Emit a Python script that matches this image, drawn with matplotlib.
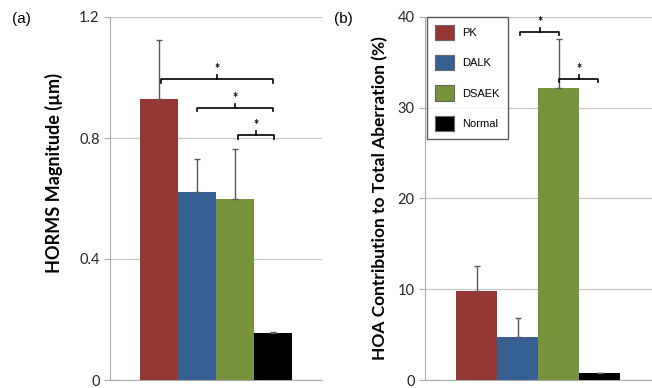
import matplotlib.pyplot as plt

groups = ['PK', 'DALK', 'DSAEK', 'Normal']
colors = ['#953735', '#376092', '#77933C', '#000000']

horms = [0.93, 0.62, 0.60, 0.155]
horms_err = [0.195, 0.11, 0.165, 0.005]
hoa_pct = [9.8, 4.75, 32.2, 0.75]
hoa_err = [2.8, 2.05, 5.4, 0.0]

# significance brackets: (start bar, end bar, height)
sig_a = [(0.05, 3, 0.995), (1, 3, 0.90), (2.08, 3.02, 0.81)]
sig_b = [(1.06, 2.02, 38.4), (2.02, 2.96, 33.2)]

plt.rcParams['font.family'] = ['Lato', 'DejaVu Sans']

fig = plt.figure(figsize=(6.52, 3.88), dpi=100)
ax_a = fig.add_axes([110/652, 8/388, 212/652, 363/388])
ax_b = fig.add_axes([425/652, 8/388, 227/652, 363/388])


def draw_panel(ax, vals, errs, ymax, ticks, ticklabels, xlim):
    x = range(len(vals))
    ax.bar(x, vals, width=1.0, color=colors, zorder=3)
    lo = [0] * len(vals)
    ax.errorbar(x, vals, yerr=[lo, errs], fmt='none', ecolor='#595959',
                elinewidth=1, capsize=2.5, capthick=1, zorder=4)
    ax.set_xlim(*xlim)
    ax.set_ylim(0, ymax)
    ax.set_yticks(ticks)
    ax.set_yticklabels(ticklabels)
    ax.set_xticks([])
    ax.grid(axis='y', color='#c8c8c8', linewidth=0.9, zorder=0)
    for s in ['top', 'right']:
        ax.spines[s].set_visible(False)
    ax.spines['left'].set_color('#aaaaaa')
    ax.spines['bottom'].set_color('#aaaaaa')
    ax.tick_params(axis='y', length=4, color='#aaaaaa', labelsize=10.5,
                   labelcolor='#262626', pad=3.5)


def bracket(ax, x0, x1, y, d, star_off):
    ax.plot([x0, x0, x1, x1], [y - d, y, y, y - d], color='black', lw=1.2, zorder=5)
    xm = (x0 + x1) / 2
    ax.plot([xm, xm], [y, y + d], color='black', lw=1.2, zorder=5)
    ax.text(xm, y + star_off, '*', ha='center', va='bottom', fontsize=9,
            fontweight='bold')


draw_panel(ax_a, horms, horms_err, 1.2, [0, 0.4, 0.8, 1.2],
           ['0', '0.4', '0.8', '1.2'], (-1.29, 4.29))
for x0, x1, y in sig_a:
    bracket(ax_a, x0, x1, y, 0.012, 0.012)
ax_a.set_ylabel('HORMS Magnitude (µm)', fontweight='bold', fontsize=13)
ax_a.yaxis.set_label_coords(-0.222, 0.57)

draw_panel(ax_b, hoa_pct, hoa_err, 40, [0, 10, 20, 30, 40],
           ['0', '10', '20', '30', '40'], (-1.256, 4.28))
for x0, x1, y in sig_b:
    bracket(ax_b, x0, x1, y, 0.4, 0.4)
ax_b.set_ylabel('HOA Contribution to Total Aberration (%)', fontweight='bold',
                fontsize=12.5)
ax_b.yaxis.set_label_coords(-0.163, 0.5)

handles = [plt.Rectangle((0, 0), 1, 1, facecolor=c, edgecolor='#666666', lw=0.8)
           for c in colors]
leg = ax_b.legend(handles, groups, loc='upper left', bbox_to_anchor=(0.008, 1.0),
                  borderaxespad=0, frameon=True, fancybox=False,
                  edgecolor='#333333',
                  prop={'family': 'Liberation Sans', 'size': 8},
                  handlelength=1.75, handleheight=1.75, labelspacing=1.35,
                  borderpad=0.7, handletextpad=0.75)
leg.get_frame().set_linewidth(1.0)

fig.text(12/652, 1 - 23/388, '(a)', fontsize=11, family='Liberation Sans')
fig.text(334/652, 1 - 23/388, '(b)', fontsize=11, family='Liberation Sans')

fig.savefig('out.png', dpi=100)
